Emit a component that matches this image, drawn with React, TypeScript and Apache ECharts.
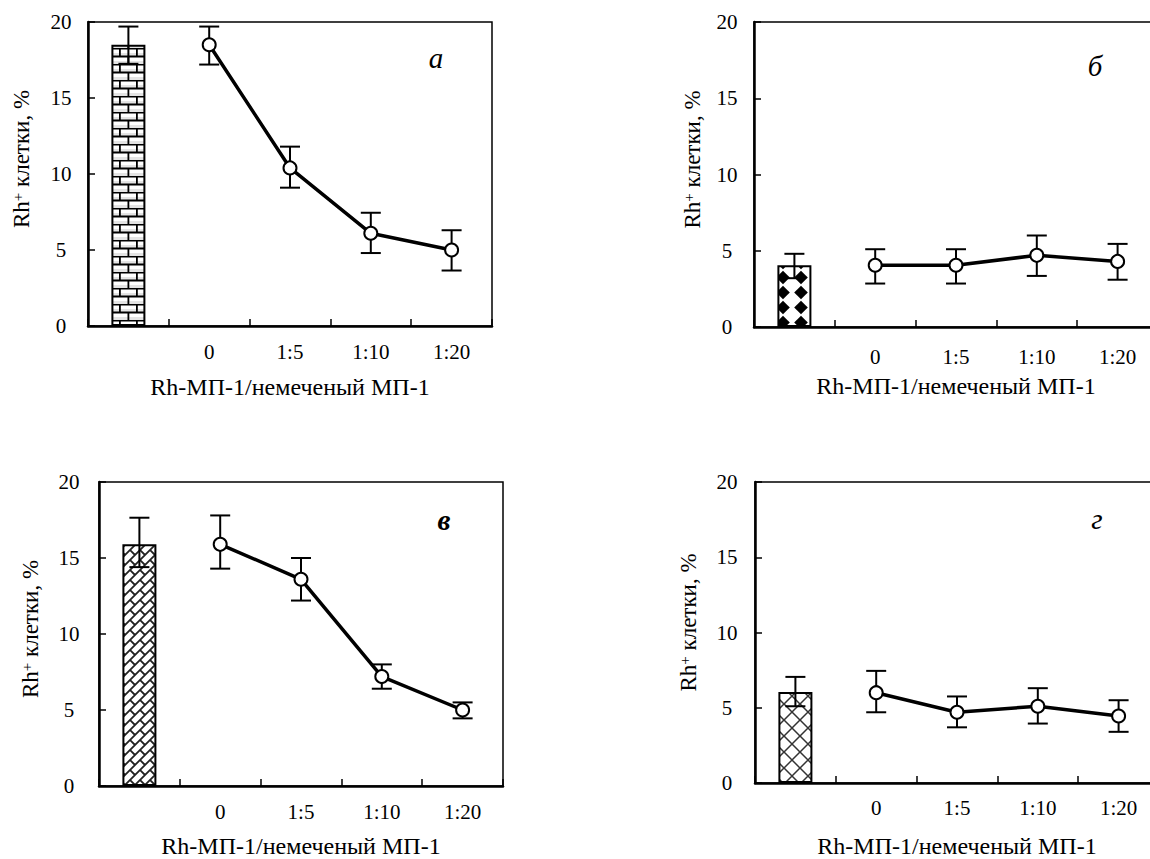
import React, { useEffect, useRef } from 'react';
import * as echarts from 'echarts';

// ---------- data ----------
const categories = ['', '0', '1:5', '1:10', '1:20'];
const panelLetters = ['а', 'б', 'в', 'г'];
const xAxisTitle = 'Rh-МП-1/немеченый МП-1';

// first value = control (bar), rest = line points
const valuesA = [18.5, 18.5, 10.4, 6.1, 5.0];
const lowA = [17.25, 17.2, 9.1, 4.8, 3.65];
const highA = [19.7, 19.7, 11.8, 7.45, 6.3];

const valuesB = [4.05, 4.05, 4.05, 4.7, 4.3];
const lowB = [3.2, 2.85, 2.85, 3.35, 3.1];
const highB = [4.8, 5.1, 5.1, 6.0, 5.45];

const valuesC = [15.9, 15.9, 13.6, 7.2, 5.0];
const lowC = [14.4, 14.3, 12.2, 6.4, 4.45];
const highC = [17.65, 17.8, 15.0, 8.0, 5.5];

const valuesD = [6.05, 6.0, 4.7, 5.1, 4.45];
const lowD = [5.1, 4.7, 3.7, 3.95, 3.4];
const highD = [7.05, 7.45, 5.75, 6.3, 5.5];

const FONT = '"Liberation Serif", "Times New Roman", serif';

function makeCanvas(w: number, h: number, draw: (ctx: CanvasRenderingContext2D) => void) {
  const c = document.createElement('canvas');
  c.width = w;
  c.height = h;
  const ctx = c.getContext('2d')!;
  ctx.fillStyle = '#fff';
  ctx.fillRect(0, 0, w, h);
  draw(ctx);
  return c.toDataURL();
}

function brickPattern() {
  const w = 17, h = 16;
  const img = makeCanvas(w, h, (ctx) => {
    ctx.fillStyle = '#e4e4e4';
    ctx.fillRect(0, 5, w, 3);
    ctx.fillRect(0, 13, w, 3);
    ctx.strokeStyle = '#000';
    ctx.lineWidth = 1.8;
    ctx.beginPath();
    ctx.moveTo(0, 0.5); ctx.lineTo(w, 0.5);
    ctx.moveTo(0, 8.5); ctx.lineTo(w, 8.5);
    ctx.moveTo(0.9, 0); ctx.lineTo(0.9, 8.5);
    ctx.moveTo(9.4, 8.5); ctx.lineTo(9.4, 16);
    ctx.stroke();
  });
  return { image: img, repeat: 'repeat', imageWidth: w, imageHeight: h, x: 11, y: 3 };
}

function diamondPattern() {
  const w = 18, h = 15;
  const img = makeCanvas(w, h, (ctx) => {
    ctx.fillStyle = '#000';
    ctx.beginPath();
    ctx.moveTo(9, 0.8); ctx.lineTo(15.8, 7.5); ctx.lineTo(9, 14.2); ctx.lineTo(2.2, 7.5);
    ctx.closePath();
    ctx.fill();
  });
  return { image: img, repeat: 'repeat', imageWidth: w, imageHeight: h, x: 2, y: 8.5 };
}

function diagBrickPattern() {
  const w = 10, h = 10;
  const L = 10 * Math.SQRT2;
  const H = 5 * Math.SQRT2;
  const img = makeCanvas(w, h, (ctx) => {
    ctx.strokeStyle = '#222';
    ctx.lineWidth = 1.8;
    ctx.save();
    ctx.rotate(-Math.PI / 4);
    ctx.beginPath();
    for (let r = -8; r <= 8; r++) {
      const v = r * H;
      ctx.moveTo(-40, v); ctx.lineTo(40, v);
      const off = ((r % 2) + 2) % 2 ? L / 2 : 0;
      for (let k = -6; k <= 6; k++) {
        const u = k * L + off;
        ctx.moveTo(u, v); ctx.lineTo(u, v + H);
      }
    }
    ctx.stroke();
    ctx.restore();
  });
  return { image: img, repeat: 'repeat', imageWidth: w, imageHeight: h };
}

function crossPattern() {
  const w = 16, h = 16;
  const img = makeCanvas(w, h, (ctx) => {
    ctx.strokeStyle = '#333';
    ctx.lineWidth = 1.5;
    ctx.beginPath();
    ctx.moveTo(-2, -2); ctx.lineTo(18, 18);
    ctx.moveTo(18, -2); ctx.lineTo(-2, 18);
    ctx.stroke();
  });
  return { image: img, repeat: 'repeat', imageWidth: w, imageHeight: h, x: 3, y: 0 };
}

// ---------- layout ----------
const panels = [
  { values: valuesA, low: lowA, high: highA, grid: { left: 88, top: 22, width: 404, height: 304 },
    yLabelMargin: 27, yNameGap: 55, yNameShift: 30, xLabelMargin: 15, xNameGap: 50,
    letter: { x: 436, y: 57.5, weight: 'normal' }, pattern: brickPattern },
  { values: valuesB, low: lowB, high: highB, grid: { left: 754, top: 22, width: 404, height: 305 },
    yLabelMargin: 27, yNameGap: 50, yNameShift: 30, xLabelMargin: 19, xNameGap: 48,
    letter: { x: 1095, y: 65.5, weight: 'normal' }, pattern: diamondPattern },
  { values: valuesC, low: lowC, high: highC, grid: { left: 99, top: 482, width: 404, height: 304 },
    yLabelMargin: 30, yNameGap: 57, yNameShift: 10, xLabelMargin: 15, xNameGap: 49,
    letter: { x: 444, y: 519.5, weight: 'bold' }, pattern: diagBrickPattern },
  { values: valuesD, low: lowD, high: highD, grid: { left: 755, top: 482, width: 404, height: 301 },
    yLabelMargin: 28, yNameGap: 55, yNameShift: 20, xLabelMargin: 14, xNameGap: 52,
    letter: { x: 1097, y: 518.5, weight: 'normal' }, pattern: crossPattern },
];

function buildOption() {
  const grid: any[] = [];
  const xAxis: any[] = [];
  const yAxis: any[] = [];
  const series: any[] = [];
  const graphic: any[] = [];

  panels.forEach((p, i) => {
    grid.push({
      ...p.grid,
      show: true,
      borderColor: '#000',
      borderWidth: 1.5,
      backgroundColor: 'transparent',
      containLabel: false,
      outerBoundsMode: 'none',
    });
    xAxis.push({
      type: 'category',
      gridIndex: i,
      data: categories,
      boundaryGap: true,
      axisLine: { lineStyle: { color: '#000', width: 2.5 } },
      axisTick: { show: true, inside: true, length: 7, interval: 0, lineStyle: { color: '#000', width: 1.5 } },
      axisLabel: { interval: 0, margin: p.xLabelMargin, color: '#000', fontSize: 21, fontFamily: FONT },
      splitLine: { show: false },
      name: xAxisTitle,
      nameLocation: 'middle',
      nameGap: p.xNameGap,
      nameTextStyle: { color: '#000', fontSize: 24, lineHeight: 22, fontWeight: 'normal', fontFamily: FONT },
    });
    yAxis.push({
      type: 'value',
      gridIndex: i,
      min: 0,
      max: 20,
      interval: 5,
      axisLine: { show: true, lineStyle: { color: '#000', width: 2.5 } },
      axisTick: { show: true, inside: true, length: 7, lineStyle: { color: '#000', width: 1.5 } },
      axisLabel: { align: 'center', margin: p.yLabelMargin, color: '#000', fontSize: 21, fontFamily: FONT },
      splitLine: { show: false },
      name: '{a|Rh}{s|+}{a| клетки, %}',
      nameLocation: 'middle',
      nameGap: p.yNameGap,
      nameTextStyle: {
        color: '#000',
        padding: [0, 0, 0, p.yNameShift],
        rich: {
          a: { fontSize: 23, fontFamily: FONT, color: '#000' },
          s: { fontSize: 15, fontFamily: FONT, color: '#000', verticalAlign: 'top' },
        },
      },
    });

    series.push({
      type: 'bar',
      xAxisIndex: i,
      yAxisIndex: i,
      barWidth: 34,
      z: 2,
      data: p.values.map((v, k) => (k === 0 ? v : '-')),
      itemStyle: { color: p.pattern(), borderColor: '#000', borderWidth: 2 },
    });
    series.push({
      type: 'custom',
      xAxisIndex: i,
      yAxisIndex: i,
      z: 3,
      encode: { x: 0, y: [1, 2] },
      data: p.low.map((lo, k) => [k, lo, p.high[k]]),
      renderItem: (params: any, api: any) => {
        const x = api.value(0);
        const a = api.coord([x, api.value(1)]);
        const b = api.coord([x, api.value(2)]);
        const hw = 10;
        const st = { stroke: '#000', lineWidth: 2 };
        return {
          type: 'group',
          children: [
            { type: 'line', shape: { x1: a[0], y1: a[1], x2: b[0], y2: b[1] }, style: st },
            { type: 'line', shape: { x1: a[0] - hw, y1: a[1], x2: a[0] + hw, y2: a[1] }, style: st },
            { type: 'line', shape: { x1: b[0] - hw, y1: b[1], x2: b[0] + hw, y2: b[1] }, style: st },
          ],
        };
      },
    });
    series.push({
      type: 'line',
      xAxisIndex: i,
      yAxisIndex: i,
      z: 4,
      data: p.values.map((v, k) => (k === 0 ? '-' : v)),
      symbol: 'circle',
      symbolSize: 13,
      lineStyle: { color: '#000', width: 3.5 },
      itemStyle: { color: '#fff', borderColor: '#000', borderWidth: 2 },
    });

    graphic.push({
      type: 'text',
      x: p.letter.x,
      y: p.letter.y,
      z: 10,
      style: {
        text: panelLetters[i],
        font: `italic ${p.letter.weight} 29px ${FONT}`,
        fill: '#000',
        textAlign: 'center',
        textVerticalAlign: 'middle',
        align: 'center',
        verticalAlign: 'middle',
      },
    });
  });

  return {
    animation: false,
    backgroundColor: '#fff',
    grid,
    xAxis,
    yAxis,
    series,
    graphic,
  };
}

export default function App() {
  const ref = useRef<HTMLDivElement>(null);
  useEffect(() => {
    document.body.style.margin = '0';
    const chart = echarts.init(ref.current!, null, { renderer: 'svg' });
    chart.setOption(buildOption() as any);
    return () => chart.dispose();
  }, []);
  return (
    <div
      ref={ref}
      style={{ position: 'absolute', left: 0, top: 0, width: 1150, height: 859, background: '#fff' }}
    />
  );
}
